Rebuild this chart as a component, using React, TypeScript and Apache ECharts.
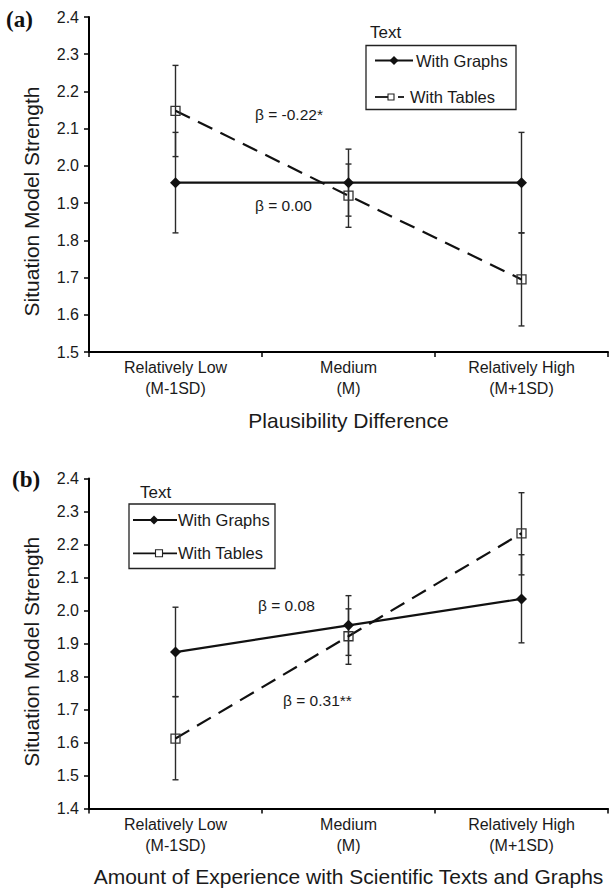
import React, { useEffect, useRef } from "react";
import * as echarts from "echarts";

const categories = ["Relatively Low\n(M-1SD)", "Medium\n(M)", "Relatively High\n(M+1SD)"];

// Panel (a): Plausibility Difference
const graphsA = [1.955, 1.955, 1.955];
const tablesA = [2.148, 1.92, 1.695];
const graphsAErr = [[1.82, 2.09], [1.865, 2.045], [1.82, 2.09]];
const tablesAErr = [[2.025, 2.27], [1.835, 2.005], [1.57, 1.82]];

// Panel (b): Amount of Experience
const graphsB = [1.874, 1.955, 2.035];
const tablesB = [1.612, 1.922, 2.234];
const graphsBErr = [[1.739, 2.01], [1.864, 2.045], [1.902, 2.169]];
const tablesBErr = [[1.487, 1.739], [1.837, 2.005], [2.108, 2.357]];

const yTicksA = { min: 1.5, max: 2.4, interval: 0.1 };
const yTicksB = { min: 1.4, max: 2.4, interval: 0.1 };

const FONT = "'Liberation Sans', Arial, sans-serif";
const INK = "#1a1a1a";

function errRender(params: any, api: any) {
  const i = api.value(0);
  const lo = api.coord([i, api.value(1)]);
  const hi = api.coord([i, api.value(2)]);
  const w = 3;
  const style = { stroke: "#2a2a2a", lineWidth: 1.4 };
  return {
    type: "group",
    children: [
      { type: "line", shape: { x1: lo[0], y1: lo[1], x2: hi[0], y2: hi[1] }, style },
      { type: "line", shape: { x1: lo[0] - w, y1: lo[1], x2: lo[0] + w, y2: lo[1] }, style },
      { type: "line", shape: { x1: hi[0] - w, y1: hi[1], x2: hi[0] + w, y2: hi[1] }, style },
    ],
  };
}

function errData(errs: number[][]) {
  return errs.map((e, i) => [i, e[0], e[1]]);
}

function xAxisFor(gridIndex: number) {
  return {
    type: "category",
    gridIndex,
    data: categories,
    boundaryGap: true,
    axisLine: { show: true, lineStyle: { color: "#000", width: 2 } },
    axisTick: { show: true, length: 5, lineStyle: { color: "#000", width: 1.5 } },
    axisLabel: { fontSize: 16, lineHeight: 21, color: INK, margin: 5, fontFamily: FONT },
    splitLine: { show: false },
  };
}

function yAxisFor(gridIndex: number, t: { min: number; max: number; interval: number }) {
  return {
    type: "value",
    gridIndex,
    min: t.min,
    max: t.max,
    interval: t.interval,
    axisLine: { show: true, lineStyle: { color: "#000", width: 2 } },
    axisTick: { show: true, length: 5, lineStyle: { color: "#000", width: 1.5 } },
    axisLabel: {
      fontSize: 16,
      color: INK,
      margin: 10,
      fontFamily: FONT,
      formatter: (v: number) => v.toFixed(1),
    },
    splitLine: { show: false },
  };
}

function graphsSeries(idx: number, data: number[]) {
  return {
    type: "line",
    name: "With Graphs",
    xAxisIndex: idx,
    yAxisIndex: idx,
    data,
    symbol: "diamond",
    symbolSize: 11,
    itemStyle: { color: "#111" },
    lineStyle: { color: "#111", width: 2.2 },
    z: 3,
    silent: true,
  };
}

function tablesSeries(idx: number, data: number[]) {
  return {
    type: "line",
    name: "With Tables",
    xAxisIndex: idx,
    yAxisIndex: idx,
    data,
    symbol: "rect",
    symbolSize: 9,
    itemStyle: { color: "rgba(255,255,255,0)", borderColor: "#333", borderWidth: 1.3 },
    lineStyle: { color: "#111", width: 2.2, type: [16, 9] },
    z: 3,
    silent: true,
  };
}

function errSeries(idx: number, errs: number[][]) {
  return {
    type: "custom",
    xAxisIndex: idx,
    yAxisIndex: idx,
    data: errData(errs),
    encode: { x: 0, y: [1, 2] },
    renderItem: errRender,
    z: 2,
    silent: true,
  };
}

function txt(text: string, x: number, y: number, size: number, extra: any = {}) {
  return {
    type: "text",
    x,
    y,
    silent: true,
    style: {
      text,
      fontSize: size,
      fontFamily: FONT,
      fill: INK,
      textAlign: "left",
      textVerticalAlign: "middle",
      ...extra,
    },
  };
}

function diamond(cx: number, cy: number, r: number) {
  return {
    type: "polygon",
    silent: true,
    shape: { points: [[cx, cy - r], [cx + r, cy], [cx, cy + r], [cx - r, cy]] },
    style: { fill: "#111" },
  };
}

function hline(x1: number, x2: number, y: number, w = 1.8) {
  return {
    type: "line",
    silent: true,
    shape: { x1, y1: y, x2, y2: y },
    style: { stroke: "#111", lineWidth: w },
  };
}

function square(cx: number, cy: number, s: number) {
  return {
    type: "rect",
    silent: true,
    shape: { x: cx - s / 2, y: cy - s / 2, width: s, height: s },
    style: { fill: "#fff", stroke: "#222", lineWidth: 1.1 },
  };
}

export default function App() {
  const ref = useRef<HTMLDivElement>(null);

  useEffect(() => {
    if (!ref.current) return;
    const chart = echarts.init(ref.current, undefined, { renderer: "svg" });

    const graphic: any[] = [
      // panel labels
      txt("(a)", 6, 19, 23, { fontFamily: "'Liberation Serif', 'Times New Roman', serif", fontWeight: "bold", fill: "#111" }),
      txt("(b)", 12, 479, 23, { fontFamily: "'Liberation Serif', 'Times New Roman', serif", fontWeight: "bold", fill: "#111" }),
      // y axis names
      {
        type: "text",
        x: 31,
        y: 201.5,
        rotation: Math.PI / 2,
        silent: true,
        style: { text: "Situation Model Strength", fontSize: 21, fontFamily: FONT, fill: INK, textAlign: "center", textVerticalAlign: "middle" },
      },
      {
        type: "text",
        x: 31,
        y: 651.7,
        rotation: Math.PI / 2,
        silent: true,
        style: { text: "Situation Model Strength", fontSize: 21, fontFamily: FONT, fill: INK, textAlign: "center", textVerticalAlign: "middle" },
      },
      // x axis names
      txt("Plausibility Difference", 348.5, 420, 21, { textAlign: "center" }),
      txt("Amount of Experience with Scientific Texts and Graphs", 348.5, 876.7, 21, { textAlign: "center" }),
      // beta annotations
      txt("β = -0.22*", 255, 114.3, 15.5),
      txt("β = 0.00", 255, 205, 15.5),
      txt("β = 0.08", 258, 605.5, 15.5),
      txt("β = 0.31**", 283, 700.5, 15.5),
      // legend (a)
      txt("Text", 370, 32.5, 17),
      {
        type: "rect",
        silent: true,
        shape: { x: 366, y: 45.5, width: 150, height: 64 },
        style: { fill: "none", stroke: "#222", lineWidth: 1.3 },
      },
      hline(375, 413, 60.5),
      diamond(394, 60.5, 4.5),
      txt("With Graphs", 416, 60.5, 16.5),
      hline(375, 388, 97),
      square(391, 97, 6),
      hline(398, 404, 97),
      txt("With Tables", 410, 97, 16.5),
      // legend (b)
      txt("Text", 140, 492.7, 17),
      {
        type: "rect",
        silent: true,
        shape: { x: 129, y: 504, width: 146, height: 64.5 },
        style: { fill: "none", stroke: "#222", lineWidth: 1.3 },
      },
      hline(133, 177, 520),
      diamond(154, 520, 4.5),
      txt("With Graphs", 178, 520, 16.5),
      hline(133, 177, 553.3),
      square(159, 553.3, 7),
      txt("With Tables", 178, 553.3, 16.5),
    ];

    chart.setOption({
      animation: false,
      backgroundColor: "#fff",
      grid: [
        { left: 89, right: 6, top: 17, height: 335, containLabel: false },
        { left: 89, right: 6, top: 478.5, height: 330, containLabel: false },
      ],
      xAxis: [xAxisFor(0), xAxisFor(1)],
      yAxis: [yAxisFor(0, yTicksA), yAxisFor(1, yTicksB)],
      series: [
        errSeries(0, graphsAErr),
        errSeries(0, tablesAErr),
        graphsSeries(0, graphsA),
        tablesSeries(0, tablesA),
        errSeries(1, graphsBErr),
        errSeries(1, tablesBErr),
        graphsSeries(1, graphsB),
        tablesSeries(1, tablesB),
      ],
      graphic,
    });

    return () => chart.dispose();
  }, []);

  return (
    <div
      ref={ref}
      style={{ position: "fixed", left: 0, top: 0, width: 614, height: 889, background: "#fff" }}
    />
  );
}
